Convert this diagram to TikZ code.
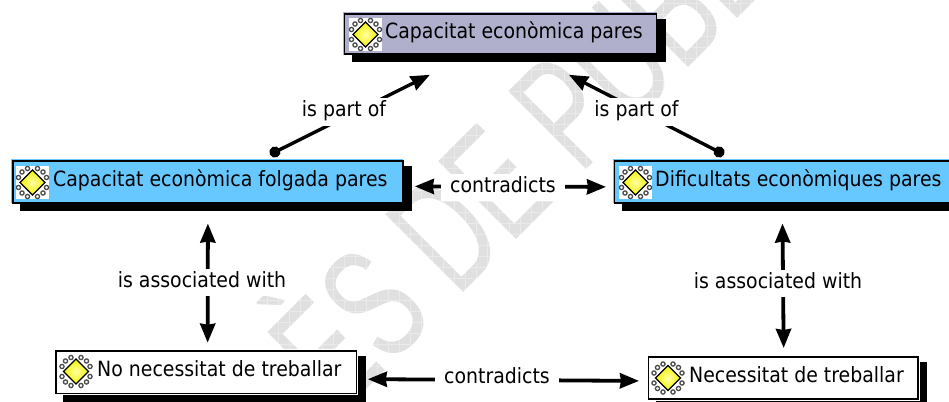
\documentclass[tikz,border=0pt]{standalone}
\usepackage{fontspec}
\setmainfont[FakeStretch=0.9]{DejaVu Sans}
\newfontfamily\wmfont{Liberation Sans}
\usetikzlibrary{arrows.meta,calc}
\definecolor{bluefill}{HTML}{66C8FF}
\definecolor{greyfill}{HTML}{B0B0CC}
\definecolor{wmgrey}{HTML}{E0E0E0}
\tikzset{
  cbox/.style={draw=black,line width=1.8pt,fill=#1,rectangle,inner sep=0pt,anchor=north west},
  cboxtext/.style={font=\fontsize{21}{24}\selectfont,text=black,text height=15pt,text depth=5pt,anchor=west,inner sep=0pt},
  link/.style={line width=3.8pt,{Stealth[length=19pt,width=15pt,inset=1pt]}-{Stealth[length=19pt,width=15pt,inset=1pt]}},
  partof/.style={line width=3.4pt,{Circle[length=11pt,width=11pt]}-{Stealth[length=19pt,width=15pt,inset=1pt]}},
  linklabel/.style={font=\fontsize{21}{24}\selectfont,text=black,fill=white,inner xsep=9pt,inner ysep=0pt,minimum height=27pt,text height=15pt,text depth=5pt},
  icn/.pic={
    \foreach \sx in {-1,1}{\foreach \sy in {-1,1}{
      \foreach \a/\b in {5/14,10.5/10.5,14/5}{
        \draw[black!70,line width=1.3pt] (\sx*\a,\sy*\b) circle (2.1pt);
      }}}
    \shade[draw=black,line width=1.2pt,inner color=yellow!35!white,outer color=yellow!90!olive]
      (-12.5,0) -- (0,-12.5) -- (12.5,0) -- (0,12.5) -- cycle;
  }
}
% name, x1, y1, x2, y2, fill, margin, text x, text
\newcommand{\conceptbox}[9]{%
  \fill[black] (#2+8,#3+6) rectangle (#4+10,#5+9);
  \fill[#6] (#2-0.9,#3-0.9) rectangle (#4+#7,#5+#7);
  \node[cbox=#6,minimum width=#4-#2,minimum height=#5-#3] (#1) at (#2,#3) {};
  \conceptrest{#1}{#3}{#5}{#8}{#9}%
}
\newcommand{\conceptrest}[5]{%
  \node[cboxtext] (#1text) at (#4,#2/2+#3/2) {#5};
}
\begin{document}
\begin{tikzpicture}[x=1pt,y=-1pt]
\useasboundingbox (0,0) rectangle (949,401);
\clip (0,0) rectangle (949,401);
\fill[white] (0,0) rectangle (949,401);
% watermark
\node[rotate=45,anchor=base west,inner sep=0pt,text=wmgrey] (wm) at (339,417)
  {\scalebox{0.65}[1]{\wmfont\fontsize{160}{160}\selectfont ÈS DE PUBL}};
\draw[white,line width=0.5pt,opacity=0.35]
  \foreach \g in {3,14,...,949}{(\g,0) -- (\g,401)}
  \foreach \g in {3,14,...,401}{(0,\g) -- (949,\g)};
% boxes
\conceptbox{T}{343.5}{13}{655.5}{53.5}{greyfill}{1.3}{385}{Capacitat econòmica pares}
\conceptbox{L}{12}{160}{402}{202}{bluefill}{1.3}{53}{Capacitat econòmica folgada pares}
\conceptbox{R}{613.5}{160}{955}{202}{bluefill}{1.3}{655}{Dificultats econòmiques pares}
\conceptbox{BL}{55}{350}{355.5}{392.5}{white}{2.7}{97}{No necessitat de treballar}
\conceptbox{BR}{647.5}{356}{917}{398}{white}{2.7}{689}{Necessitat de treballar}
% icons
\fill[white] (349,18) rectangle (382,51);
\pic at (365.5,34.5) {icn};
\fill[white] (16,166) rectangle (49,199);
\pic at (32.5,182.5) {icn};
\fill[white] (619,166) rectangle (652,199);
\pic at (635.5,182.5) {icn};
\pic at (76,371.5) {icn};
\pic at (668,378) {icn};
% connectors
\draw[partof] ($(L.north west)+(258,-5.5)$) -- ($(T.south)+(-70.5,19.5)$);
\draw[partof] ($(R.north west)+(110.5,-5.5)$) -- ($(T.south)+(68.5,19.5)$);
\draw[link] ($(L.east)+(11,4.5)$) -- ($(R.west)+(-7.5,5)$);
\draw[link] ($(L.south)+(0,19.7)$) -- ($(BL.north)+(1.5,-7.3)$);
\draw[link] ($(R.south west)+(169,19.7)$) -- ($(BR.north)+(0.5,-8)$);
\draw[link] ($(BL.east)+(10.5,7)$) -- ($(BR.west)+(-8.5,3)$);
% labels
\node[linklabel] (lp1) at (344,112) {is part of};
\node[linklabel] (lp2) at (636.5,112) {is part of};
\node[linklabel] (lc1) at (503,187) {contradicts};
\node[linklabel] (la1) at (202,282) {is associated with};
\node[linklabel] (la2) at (778,283) {is associated with};
\node[linklabel] (lc2) at (497,378) {contradicts};
\end{tikzpicture}
\end{document}
